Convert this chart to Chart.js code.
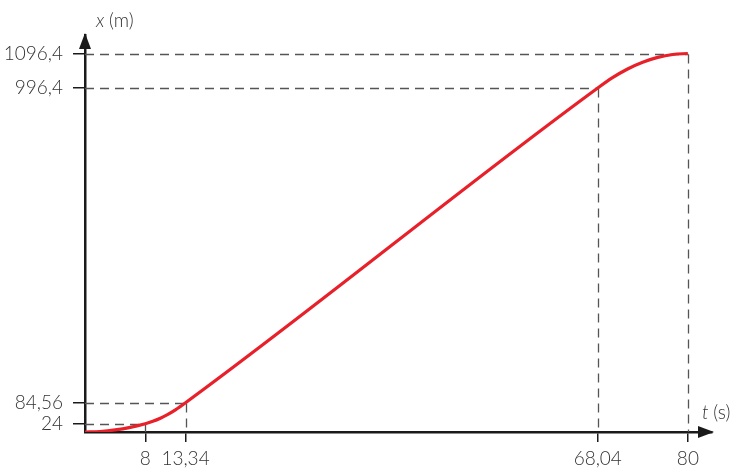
<!DOCTYPE html>
<html>
<head>
<meta charset="utf-8">
<script src="https://cdn.jsdelivr.net/npm/chart.js@4/dist/chart.umd.min.js"></script>
<style>
html,body{margin:0;padding:0;background:#fff;}
#wrap{width:730px;height:471px;position:relative;}
</style>
</head>
<body>
<div id="wrap"><canvas id="c" width="730" height="471"></canvas></div>
<script>
// time (s) and position (m)
const times     = [0, 2, 4, 6, 8, 9, 10, 11, 12, 13.34, 68.04, 70, 72, 74, 76, 78, 80];
const positions = [0, 1.5, 6, 13.5, 24, 31, 40, 51, 64, 84.56, 996.4, 1026.4, 1051.6, 1071.1, 1085.2, 1093.6, 1096.4];
// marked values on the axes
const xTicks = [8, 13.34, 68.04, 80];
const yTicks = [24, 84.56, 996.4, 1096.4];
// guide lines: [t, x] points joined to both axes
const guides = [[8, 24], [13.34, 84.56], [68.04, 996.4], [80, 1096.4]];
const xTitle = 't (s)';
const yTitle = 'x (m)';

const fmt = v => String(v).replace('.', ',');
const FONT = 'Lato, "Open Sans", sans-serif';
const FS = 19;
const FW = '300';
const AXIS = '#1a1a1a';
const TXT = '#333';

const guidePlugin = {
  id: 'guides',
  beforeDatasetsDraw(chart) {
    const {ctx, scales: {x, y}} = chart;
    ctx.save();
    ctx.strokeStyle = '#555';
    ctx.lineWidth = 1.3;
    ctx.setLineDash([9, 6]);
    guides.forEach(([t, v]) => {
      const px = Math.round(x.getPixelForValue(t)) + 0.5, py = Math.round(y.getPixelForValue(v)) + 0.5;
      const x0 = x.getPixelForValue(0), y0 = y.getPixelForValue(0);
      ctx.beginPath(); ctx.moveTo(x0, py); ctx.lineTo(px, py); ctx.stroke();
      ctx.beginPath(); ctx.moveTo(px, py); ctx.lineTo(px, y0); ctx.stroke();
    });
    ctx.restore();
  },
  afterDraw(chart) {
    const {ctx, scales: {x, y}} = chart;
    const x0 = x.getPixelForValue(0), y0 = y.getPixelForValue(0);
    const xt = x.getPixelForValue(x.max), yt = y.getPixelForValue(y.max);
    ctx.save();
    ctx.fillStyle = AXIS;
    // y arrow
    ctx.beginPath(); ctx.moveTo(x0, yt - 2); ctx.lineTo(x0 - 6, yt + 14); ctx.lineTo(x0 + 6, yt + 14); ctx.closePath(); ctx.fill();
    // x arrow
    ctx.beginPath(); ctx.moveTo(xt + 2, y0); ctx.lineTo(xt - 14, y0 - 6); ctx.lineTo(xt - 14, y0 + 6); ctx.closePath(); ctx.fill();
    // titles
    ctx.fillStyle = TXT;
    ctx.textBaseline = 'middle';
    ctx.textAlign = 'left';
    ctx.font = 'italic ' + FW + ' ' + FS + 'px ' + FONT;
    const [yv, ...yr] = yTitle.split(' ');
    ctx.fillText(yv, x0 + 11, 21);
    let w = ctx.measureText(yv + ' ').width;
    ctx.font = FW + ' ' + FS + 'px ' + FONT;
    ctx.fillText(yr.join(' '), x0 + 11 + w, 21);
    const [xv, ...xr] = xTitle.split(' ');
    ctx.font = 'italic ' + FW + ' ' + FS + 'px ' + FONT;
    ctx.fillText(xv, 702, y0 - 19);
    w = ctx.measureText(xv + ' ').width;
    ctx.font = FW + ' ' + FS + 'px ' + FONT;
    ctx.fillText(xr.join(' '), 702 + w, y0 - 19);
    ctx.restore();
  }
};

new Chart(document.getElementById('c'), {
  type: 'line',
  data: {
    datasets: [{
      data: times.map((t, i) => ({x: t, y: positions[i]})),
      borderColor: '#e8202a',
      borderWidth: 3.2,
      pointRadius: 0,
      cubicInterpolationMode: 'monotone',
      fill: false
    }]
  },
  options: {
    responsive: false,
    animation: false,
    devicePixelRatio: 1,
    layout: {padding: {top: 35, right: 18, left: 0, bottom: 0}},
    plugins: {legend: {display: false}, tooltip: {enabled: false}},
    scales: {
      x: {
        type: 'linear', min: 0, max: 83.2,
        afterBuildTicks: s => { s.ticks = xTicks.map(v => ({value: v})); },
        afterFit: s => { s.height = 39; },
        grid: {drawOnChartArea: false, drawTicks: true, tickLength: 10, color: AXIS, lineWidth: 1.5},
        border: {display: true, color: AXIS, width: 2.5},
        ticks: {autoSkip: false, maxRotation: 0, padding: 5, color: TXT, font: {family: FONT, size: FS, weight: FW}, callback: v => fmt(v)}
      },
      y: {
        type: 'linear', min: 0, max: 1150,
        afterBuildTicks: s => { s.ticks = yTicks.map(v => ({value: v})); },
        afterFit: s => { s.width = 85; },
        grid: {drawOnChartArea: false, drawTicks: true, tickLength: 12, color: AXIS, lineWidth: 1.5},
        border: {display: true, color: AXIS, width: 2.5},
        ticks: {autoSkip: false, padding: 10, color: TXT, font: {family: FONT, size: FS, weight: FW}, callback: v => fmt(v)}
      }
    }
  },
  plugins: [guidePlugin]
});
</script>
</body>
</html>
